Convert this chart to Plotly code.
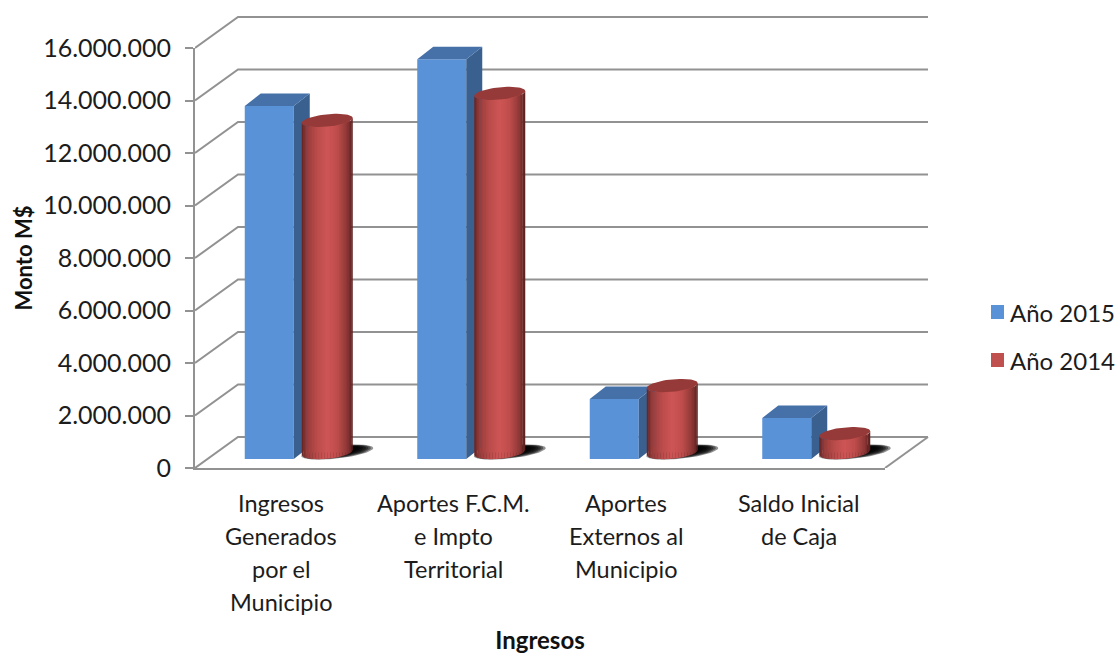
import numpy as np
import plotly.graph_objects as go

CATEGORY_LINES = [
    ["Ingresos", "Generados", "por el", "Municipio"],
    ["Aportes F.C.M.", "e Impto", "Territorial"],
    ["Aportes", "Externos al", "Municipio"],
    ["Saldo Inicial", "de Caja"],
]
SERIES_2015 = [13450000, 15230000, 2290000, 1560000]
SERIES_2014 = [12650000, 13680000, 2550000, 720000]
SERIES_NAMES = ["Año 2015", "Año 2014"]
TICK_VALUES = [0, 2000000, 4000000, 6000000, 8000000, 10000000, 12000000, 14000000, 16000000]
TICK_LABELS = ["0", "2.000.000", "4.000.000", "6.000.000", "8.000.000",
               "10.000.000", "12.000.000", "14.000.000", "16.000.000"]

FONT = "Lato, Carlito, Calibri, sans-serif"
INK = "#1c1c1c"
GRID = "#929292"

W, H = 1117, 654
ML, MR, MT, MB = 195, 184, 12, 186
PW, PH = W - ML - MR, H - MT - MB
FRONT_W, FRONT_H = 690, 420
UX = 4 / FRONT_W            # x data per pixel
UY = 16000000 / FRONT_H     # y data per pixel
X_RANGE = [-0.5, -0.5 + PW * UX]
Y_RANGE = [0, PH * UY]

BACK_DX, BACK_DY = 43 * UX, 31 * UY
BLUE_W, BLUE_OFF, BLUE_BASE = 49 * UX, -12 * UX, 9 * UY
SIDE_DX, SIDE_DY = 16 * UX, 12.5 * UY
CYL_OFF, CYL_RX, CYL_RY, CYL_TILT, CYL_BASE = 46 * UX, 25.5 * UX, 6.2 * UY, 2.4 * UY, 15.5 * UY

n = len(SERIES_2015)
idx = np.arange(n)
fig = go.Figure()

# invisible anchor that keeps the front-plane axes alive
fig.add_trace(go.Scatter(x=[None], y=[None], mode="lines", showlegend=False, hoverinfo="skip"))

# --- back wall grid and floor
gx, gy = [], []
for v in TICK_VALUES:
    gx += [-0.5, -0.5 + BACK_DX, 3.5 + BACK_DX, None]
    gy += [v, v + BACK_DY, v + BACK_DY, None]
gx += [3.5, 3.5 + BACK_DX, None]
gy += [0, BACK_DY, None]
fig.add_trace(go.Scatter(x=gx, y=gy, mode="lines", line=dict(color=GRID, width=2),
                         xaxis="x2", yaxis="y2", showlegend=False, hoverinfo="skip"))

# --- soft shadows of the cylinders
theta = np.linspace(0, 2 * np.pi, 60)
for frac in np.linspace(1, 0.6, 7):
    sx, sy = [], []
    for i in idx:
        sx += list(i + CYL_OFF + 10 * UX + 36 * UX * frac * np.cos(theta)) + [None]
        sy += list(16 * UY + 6.5 * UY * frac * np.sin(theta) + 4 * UY * np.cos(theta)) + [None]
    fig.add_trace(go.Scatter(x=sx, y=sy, mode="lines", fill="toself", line=dict(width=0),
                             fillcolor="rgba(0,0,0,0.42)", xaxis="x2", yaxis="y2",
                             showlegend=False, hoverinfo="skip"))

# --- bars (upper subplot)
fig.add_trace(go.Bar(x=idx + BLUE_OFF, y=SERIES_2015, base=[BLUE_BASE] * n, width=BLUE_W,
                     name=SERIES_NAMES[0], marker=dict(color="#5A92D8", line=dict(width=0)),
                     xaxis="x3", yaxis="y3", showlegend=False, hoverinfo="skip"))
fig.add_trace(go.Bar(x=idx + CYL_OFF, y=SERIES_2014, base=[CYL_BASE] * n, width=44 * UX,
                     name=SERIES_NAMES[1], marker=dict(color="#C0504D", line=dict(width=0)),
                     xaxis="x3", yaxis="y3", showlegend=False, hoverinfo="skip"))

# --- blue box side and top faces
sidex, sidey, topx, topy = [], [], [], []
for i, v in zip(idx, SERIES_2015):
    l = i + BLUE_OFF - BLUE_W / 2
    r = i + BLUE_OFF + BLUE_W / 2
    t = BLUE_BASE + v
    sidex += [r, r + SIDE_DX, r + SIDE_DX, r, r, None]
    sidey += [BLUE_BASE, BLUE_BASE + SIDE_DY, t + SIDE_DY, t, BLUE_BASE, None]
    topx += [l, r, r + SIDE_DX, l + SIDE_DX, l, None]
    topy += [t, t, t + SIDE_DY, t + SIDE_DY, t, None]
for px, py, col in ((sidex, sidey, "#3A608F"), (topx, topy, "#4571A8")):
    fig.add_trace(go.Scatter(x=px, y=py, mode="lines", fill="toself", fillcolor=col, line=dict(width=0),
                             xaxis="x3", yaxis="y3", showlegend=False, hoverinfo="skip"))

# --- cylinder body as shaded strips
STOPS_U = [0.0, 0.1, 0.3, 0.5, 0.7, 0.88, 1.0]
STOPS_C = [(100, 36, 35), (150, 60, 59), (186, 76, 75), (207, 86, 86), (190, 77, 76), (142, 56, 55), (88, 32, 31)]
STRIPS = 34
edges = np.linspace(0, 1, STRIPS + 1)


def lower(u):
    c = 2 * u - 1
    return -CYL_RY * np.sqrt(np.clip(1 - c * c, 0, 1)) + CYL_TILT * c


for s in range(STRIPS):
    u0, u1 = edges[s], min(edges[s + 1] + 0.006, 1)
    um = (edges[s] + edges[s + 1]) / 2
    col = [int(np.interp(um, STOPS_U, [c[j] for c in STOPS_C])) for j in range(3)]
    us = np.linspace(u0, u1, 4)
    px, py = [], []
    for i, v in zip(idx, SERIES_2014):
        xs = i + CYL_OFF + (2 * us - 1) * CYL_RX
        low = lower(us)
        px += list(xs) + list(xs[::-1]) + [xs[0], None]
        py += list(CYL_BASE + low) + list((CYL_BASE + v + low)[::-1]) + [CYL_BASE + low[0], None]
    fig.add_trace(go.Scatter(x=px, y=py, mode="lines", fill="toself", fillcolor=f"rgb({col[0]},{col[1]},{col[2]})",
                             line=dict(width=0), xaxis="x3", yaxis="y3",
                             showlegend=False, hoverinfo="skip"))

# --- cylinder top caps
capx, capy = [], []
for i, v in zip(idx, SERIES_2014):
    capx += list(i + CYL_OFF + CYL_RX * np.cos(theta)) + [None]
    capy += list(CYL_BASE + v + CYL_RY * np.sin(theta) + CYL_TILT * np.cos(theta)) + [None]
fig.add_trace(go.Scatter(x=capx, y=capy, mode="lines", fill="toself", fillcolor="#953A38", line=dict(width=0),
                         xaxis="x3", yaxis="y3", showlegend=False, hoverinfo="skip"))

# --- category labels, one annotation per line (the source has wide line spacing)
for i, lines in enumerate(CATEGORY_LINES):
    for j, line in enumerate(lines):
        fig.add_annotation(x=i, y=0, xref="x", yref="y", text=line, showarrow=False,
                           yanchor="middle", xanchor="center", yshift=-(35 + 33 * j),
                           font=dict(family=FONT, size=23.5, color=INK))

# --- legend keys and labels
for name, col, cy in zip(SERIES_NAMES, ["#5A92D8", "#C0504D"], [312, 360]):
    fig.add_shape(type="rect", xref="paper", yref="paper", line=dict(width=0), fillcolor=col,
                  x0=(991 - ML) / PW, x1=(1004 - ML) / PW,
                  y0=(H - MB - cy - 7) / PH, y1=(H - MB - cy + 7) / PH)
    fig.add_annotation(xref="paper", yref="paper", x=(1010 - ML) / PW, y=(H - MB - cy) / PH, text=name,
                       showarrow=False, xanchor="left", yanchor="middle", xshift=-2,
                       font=dict(family=FONT, size=24, color=INK))

axis_common = dict(showgrid=False, zeroline=False)
fig.update_layout(
    width=W, height=H, autosize=False,
    margin=dict(l=ML, r=MR, t=MT, b=MB, pad=0),
    paper_bgcolor="white", plot_bgcolor="rgba(0,0,0,0)",
    barmode="overlay",
    showlegend=False,
    xaxis=dict(domain=[0, FRONT_W / PW], range=[-0.5, 3.5], showticklabels=False, ticks="", showline=True,
               linecolor=GRID, linewidth=2, fixedrange=True,
               title=dict(text="<b>Ingresos</b>", font=dict(family=FONT, size=24, color="#111"), standoff=168),
               automargin=False, **axis_common),
    yaxis=dict(domain=[0, FRONT_H / PH], range=[0, 16000000], tickmode="array", tickvals=TICK_VALUES,
               ticktext=TICK_LABELS, ticks="outside", ticklen=8, tickwidth=2, tickcolor=GRID,
               showline=True, linecolor=GRID, linewidth=2, fixedrange=True,
               tickfont=dict(family=FONT, size=25, color=INK), ticklabelstandoff=9,
               title=dict(text="<b>Monto M$</b>", font=dict(family=FONT, size=22, color="#111"), standoff=4),
               automargin=False, **axis_common),
    xaxis2=dict(domain=[0, 1], range=X_RANGE, anchor="y2", visible=False, **axis_common),
    yaxis2=dict(domain=[0, 1], range=Y_RANGE, anchor="x2", visible=False, **axis_common),
    xaxis3=dict(domain=[0, 1], range=X_RANGE, overlaying="x2", anchor="y3", visible=False, **axis_common),
    yaxis3=dict(domain=[0, 1], range=Y_RANGE, overlaying="y2", anchor="x3", visible=False, **axis_common),
)

fig.write_html("out.html", config={"displayModeBar": False},
               post_script="document.body.style.margin='0';")
